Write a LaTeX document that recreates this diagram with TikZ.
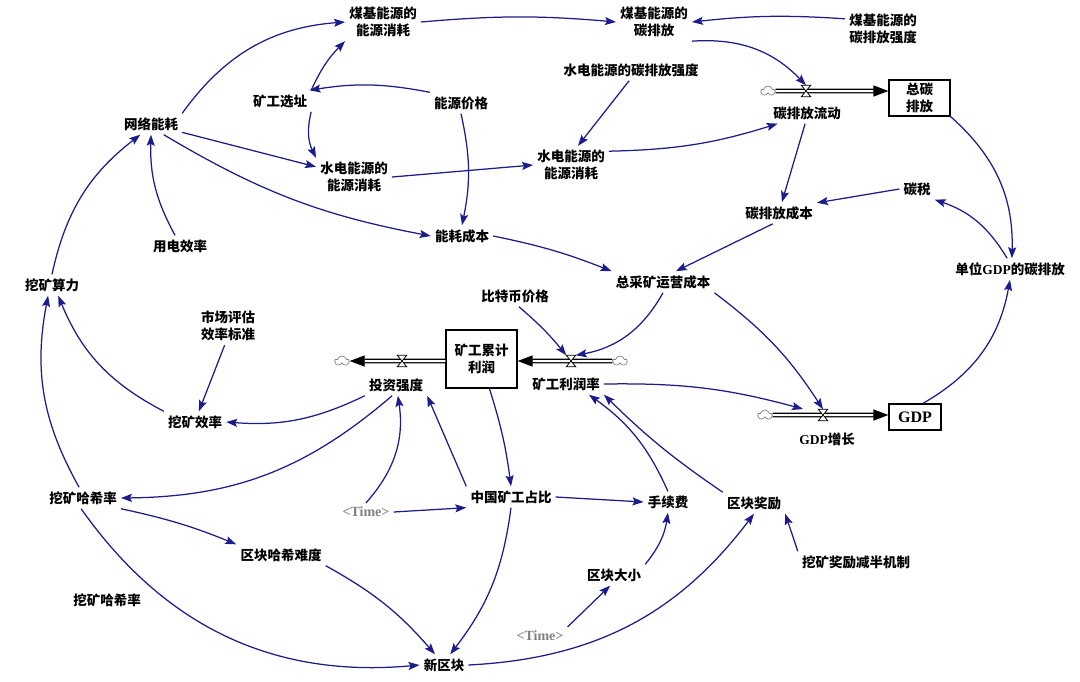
\documentclass[tikz,border=0pt]{standalone}
\usepackage{fontspec}
\setmainfont{Liberation Serif}
\newfontfamily\cjk{Noto Sans CJK SC}
\usepackage{xcolor}
\usepackage{tikz}
\usetikzlibrary{arrows.meta, shapes.symbols, calc}

\definecolor{vnavy}{RGB}{28,28,140}

\begin{document}
\begin{tikzpicture}[x=1pt, y=1pt,
  var/.style={font=\cjk\bfseries\fontsize{13.5}{17}\selectfont, align=center, inner sep=4pt},
  stock/.style={draw, line width=1.2pt, font=\cjk\bfseries\fontsize{13.5}{17}\selectfont, align=center, inner sep=0pt},
  timev/.style={font=\rmfamily\bfseries\fontsize{14}{16}\selectfont, text=gray, inner sep=4pt},
  link/.style={draw=vnavy, line width=1.25pt, -{Stealth[length=11pt,width=8pt,inset=2pt]}},
  pipe/.style={double=white, double distance=2pt, line width=1.3pt, -{Triangle[length=15pt,width=11pt]}},
  valve/.style={inner sep=0pt, minimum width=9pt, minimum height=11pt},
  cloudy/.style={cloud, cloud puffs=5, draw=gray, fill=white, line width=0.7pt, minimum width=14pt, minimum height=10pt, inner sep=0pt}]
  \useasboundingbox (0,0) rectangle (1080,-681);

  % variables
  \node[var] (mjxh) at (383,-22) {煤基能源的\\能源消耗};
  \node[var] (mjtp) at (654,-22) {煤基能源的\\碳排放};
  \node[var] (mjqd) at (883,-29) {煤基能源的\\碳排放强度};
  \node[var] (sdqd) at (631,-70) {水电能源的碳排放强度};
  \node[var] (xz) at (280,-101) {矿工选址};
  \node[var] (jg) at (461,-103) {能源价格};
  \node[var] (wl) at (151,-124) {网络能耗};
  \node[var] (tlf) at (807,-113) {碳排放流动};
  \node[stock, minimum width=61pt, minimum height=36pt] (ztp) at (919.5,-98) {总碳\\排放};
  \node[var] (sdxh1) at (354,-177) {水电能源的\\能源消耗};
  \node[var] (sdxh2) at (571,-165) {水电能源的\\能源消耗};
  \node[var] (ts) at (917,-189) {碳税};
  \node[var] (tcb) at (779,-213) {碳排放成本};
  \node[var] (ydxl) at (180,-246) {用电效率};
  \node[var] (nhcb) at (462,-236) {能耗成本};
  \node[var] (dwgdp) at (1010,-269) {单位{\rmfamily GDP}的碳排放};
  \node[var] (slv) at (52,-285) {挖矿算力};
  \node[var] (zcb) at (663,-282) {总采矿运营成本};
  \node[var] (btb) at (515,-296) {比特币价格};
  \node[var] (sc) at (228,-326) {市场评估\\效率标准};
  \node[stock, minimum width=71pt, minimum height=58pt] (lr) at (481.5,-359) {矿工累计\\利润};
  \node[var] (tz) at (396,-385) {投资强度};
  \node[var] (lrl) at (566,-384) {矿工利润率};
  \node[var] (gdpz) at (827,-439) {{\rmfamily GDP}增长};
  \node[stock, minimum width=52pt, minimum height=26pt, font=\rmfamily\bfseries\fontsize{16}{18}\selectfont] (gdp) at (915,-417) {GDP};
  \node[var] (xl) at (195,-422) {挖矿效率};
  \node[var] (hx) at (83,-498) {挖矿哈希率};
  \node[timev] (t1) at (366,-512) {<Time>};
  \node[var] (zb) at (511,-497) {中国矿工占比};
  \node[var] (sxf) at (668,-502) {手续费};
  \node[var] (jl) at (754,-503) {区块奖励};
  \node[var] (nd) at (281,-555) {区块哈希难度};
  \node[var] (jb) at (856,-562) {挖矿奖励减半机制};
  \node[var] (hx2) at (107,-600) {挖矿哈希率};
  \node[var] (dx) at (614,-575) {区块大小};
  \node[timev] (t2) at (540,-636) {<Time>};
  \node[var] (xqk) at (444,-665) {新区块};

  % flows
  \node[cloudy] (c1) at (768,-91) {};
  \node[cloudy] (c2) at (620,-361) {};
  \node[cloudy] (c3) at (342,-361) {};
  \node[cloudy] (c4) at (765,-415) {};
  \node[valve] (v1) at (806,-91) {};
  \node[valve] (v2) at (571,-361) {};
  \node[valve] (v3) at (402,-361) {};
  \node[valve] (v4) at (823,-415) {};
  \coordinate (gp) at (803,-409);

  \draw[pipe] (c1) -- (c1 -| ztp.west);
  \draw[pipe] (c2) -- (c2 -| lr.east);
  \draw[pipe] (c3 -| lr.west) -- (c3);
  \draw[pipe] (c4) -- (c4 -| gdp.west);
  \foreach \v in {v1,v2,v3,v4}
    \draw[line width=0.8pt, fill=white] (\v.north west) -- (\v.north east) -- (\v.south west) -- (\v.south east) -- cycle;

  % links
  \draw[link] (wl.north east) to[bend left=25] (mjxh.west);
  \draw[link] (xz.north east) to[bend left=10] (mjxh.south west);
  \draw[link] (jg.north west) to[bend right=10] (xz.20);
  \draw[link] (xz.south east) to[bend right=20] (sdxh1.north west);
  \draw[link] (wl.-15) -- (sdxh1.165);
  \draw[link] (wl.-40) to[bend right=10] (nhcb.west);
  \draw[link] (ydxl.115) to[bend left=15] (wl.south);
  \draw[link] (jg.south) to[bend left=12] (nhcb.north);
  \draw[link] (sdxh1.east) -- (sdxh2.west);
  \draw[link] (sdqd.-100) -- (sdxh2.70);
  \draw[link] (mjxh.east) to[bend left=5] (mjtp.west);
  \draw[link] (mjqd.165) to[bend right=5] (mjtp.east);
  \draw[link] (mjtp.south east) to[bend left=25] (v1.north);
  \draw[link] (sdxh2.20) to[bend right=8] (tlf.200);
  \draw[link] (tlf.-100) -- (tcb.75);
  \draw[link] (ts.west) -- (tcb.15);
  \draw[link] (tcb.-120) -- (zcb.40);
  \draw[link] (nhcb.east) to[bend left=5] (zcb.north west);
  \draw[link] (ztp.south east) to[bend left=25] (dwgdp.80);
  \draw[link] (dwgdp.105) to[bend right=20] (ts.south east);
  \draw[link] (gdp.60) to[bend right=25] (dwgdp.south);
  \draw[link] (zcb.south) to[bend left=25] (v2.north east);
  \draw[link] (btb.-70) to[bend left=5] (v2.north west);
  \draw[link] (zcb.south east) to[bend left=10] (v4.north);
  \draw[link] (lrl.east) to[bend left=8] (gp);
  \draw[link] (lr.-75) to[bend left=5] (zb.north);
  \draw[link] (zb.north west) -- (tz.south east);
  \draw[link] (t1.north) to[bend right=25] (tz.-80);
  \draw[link] (tz.south west) to[bend left=15] (xl.east);
  \draw[link] (tz.-110) to[bend left=20] (hx.east);
  \draw[link] (sc.-100) -- (xl.70);
  \draw[link] (xl.north west) to[bend left=20] (slv.-60);
  \draw[link] (hx.110) to[bend left=20] (slv.-110);
  \draw[link] (slv.north) to[bend left=20] (wl.-135);
  \draw[link] (hx.south east) to[bend left=5] (nd.north west);
  \draw[link] (hx.-100) to[bend right=30] (xqk.west);
  \draw[link] (nd.south east) to[bend left=10] (xqk.130);
  \draw[link] (zb.south) to[bend left=15] (xqk.60);
  \draw[link] (xqk.east) to[bend right=25] (jl.south);
  \draw[link] (t1.east) -- (zb.south west);
  \draw[link] (zb.east) -- (sxf.west);
  \draw[link] (dx.north east) to[bend right=15] (sxf.south);
  \draw[link] (t2.north east) -- (dx.-110);
  \draw[link] (sxf.north) to[bend right=15] (lrl.-25);
  \draw[link] (jl.north west) to[bend left=5] (lrl.south east);
  \draw[link] (jb.north west) -- (jl.south east);
\end{tikzpicture}
\end{document}
